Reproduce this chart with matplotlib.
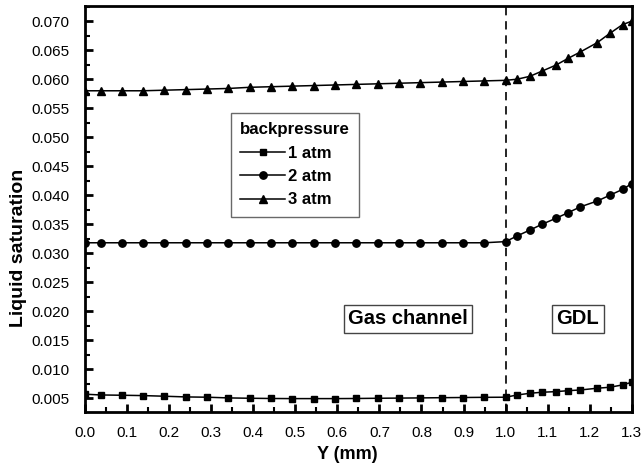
import numpy as np
import matplotlib.pyplot as plt
from matplotlib.ticker import MultipleLocator

plt.rcParams['font.family'] = ['Liberation Sans', 'DejaVu Sans']

# Положение узлов по Y (мм): газовый канал + GDL
y_pos = [0.0, 0.037, 0.088, 0.138, 0.189, 0.240, 0.291, 0.341, 0.392, 0.443, 0.493,
         0.544, 0.595, 0.645, 0.696, 0.747, 0.797, 0.848, 0.899, 0.949, 1.000,
         1.028, 1.058, 1.087, 1.119, 1.149, 1.178, 1.218, 1.248, 1.278, 1.300]

# Насыщенность жидкостью при разном противодавлении
s_1atm = [0.0057, 0.00557, 0.00552, 0.00546, 0.00535, 0.00523, 0.00518, 0.00506,
          0.00500, 0.00496, 0.00494, 0.00494, 0.00494, 0.00496, 0.00500, 0.00503,
          0.00506, 0.00510, 0.00513, 0.00516, 0.00518,
          0.00557, 0.00586, 0.00604, 0.00614, 0.00631, 0.00643, 0.00673, 0.00690,
          0.00730, 0.00776]
s_2atm = [0.0318, 0.0318, 0.0318, 0.0318, 0.0318, 0.0318, 0.0318, 0.0318,
          0.0318, 0.0318, 0.0318, 0.0318, 0.0318, 0.0318, 0.0318, 0.0318,
          0.0318, 0.0318, 0.0318, 0.0318, 0.0320,
          0.0330, 0.0340, 0.0350, 0.0360, 0.0370, 0.0380, 0.0390, 0.0400,
          0.0410, 0.0420]
s_3atm = [0.0580, 0.0580, 0.0580, 0.0580, 0.0581, 0.0582, 0.0583, 0.0584,
          0.0586, 0.0587, 0.0588, 0.0589, 0.0590, 0.0591, 0.0592, 0.0593,
          0.0594, 0.0595, 0.0596, 0.0597, 0.0598,
          0.0600, 0.0605, 0.0614, 0.0624, 0.0636, 0.0647, 0.0663, 0.0679,
          0.0694, 0.0700]

labels = ['1 atm', '2 atm', '3 atm']
markers = ['s', 'o', '^']
msizes = [4.5, 5.3, 6.3]

fig = plt.figure(figsize=(6.44, 4.67), dpi=100)
ax = fig.add_axes([0.132, 0.118, 0.849, 0.869])

for s, lab, m, ms in zip([s_1atm, s_2atm, s_3atm], labels, markers, msizes):
    ax.plot(y_pos, s, color='black', lw=1.1, marker=m, ms=ms, label=lab)

# граница канал / GDL
ax.axvline(1.0, color='black', lw=1.2, ls=(0, (5, 3.5)))

ax.set_xlim(0, 1.3)
ax.set_ylim(0.00265, 0.0726)
ax.xaxis.set_major_locator(MultipleLocator(0.1))
ax.xaxis.set_minor_locator(MultipleLocator(0.05))
ax.yaxis.set_major_locator(MultipleLocator(0.005))
ax.yaxis.set_minor_locator(MultipleLocator(0.0025))
ax.xaxis.set_major_formatter(plt.FormatStrFormatter('%.1f'))
ax.yaxis.set_major_formatter(plt.FormatStrFormatter('%.3f'))

ax.tick_params(which='major', direction='in', length=6, width=2, labelsize=11)
ax.tick_params(axis='x', which='major', pad=10)
ax.tick_params(axis='y', which='major', pad=11)
ax.tick_params(which='minor', direction='in', length=3.5, width=1.5)
for sp in ax.spines.values():
    sp.set_linewidth(2)

ax.set_xlabel('Y (mm)', fontsize=13, fontweight='bold')
ax.set_ylabel('Liquid saturation', fontsize=14, fontweight='bold')
ax.xaxis.set_label_coords(0.479, -0.085)
ax.yaxis.set_label_coords(-0.106, 0.404)

leg = ax.legend(title='backpressure', loc='upper left', bbox_to_anchor=(0.267, 0.736),
                borderaxespad=0, fancybox=False, edgecolor='#444444',
                prop={'weight': 'bold', 'size': 12}, handlelength=2.7,
                handletextpad=0.2, labelspacing=0.5, borderpad=0.55,
                alignment='left')
leg.get_title().set_fontweight('bold')
leg.get_title().set_fontsize(12.2)
leg.get_frame().set_linewidth(1)

box = dict(boxstyle='square,pad=0.22', fc='white', ec='#444444', lw=1)
ax.text(0.768, 0.0187, 'Gas channel', fontsize=14.5, fontweight='bold',
        ha='center', va='center', bbox=box)
ax.text(1.172, 0.0187, 'GDL', fontsize=14.5, fontweight='bold',
        ha='center', va='center', bbox=box)

fig.savefig('out.png', dpi=100)
